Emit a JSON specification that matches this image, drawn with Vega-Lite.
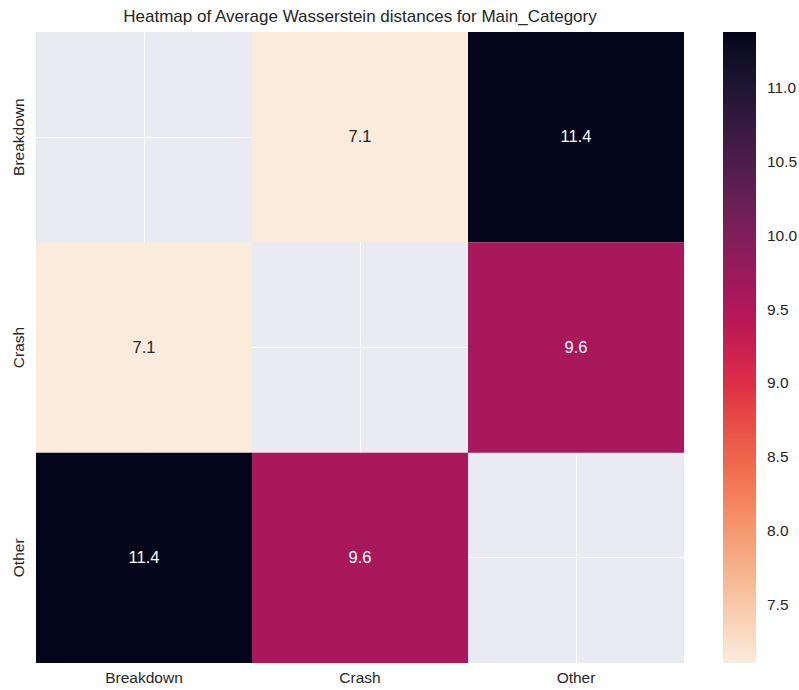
{
  "$schema": "https://vega.github.io/schema/vega-lite/v6.json",
  "width": 648,
  "height": 631,
  "autosize": {"type": "none"},
  "padding": {"left": 36, "top": 32, "right": 115, "bottom": 27},
  "background": "white",
  "config": {
    "font": "Liberation Sans",
    "view": {"fill": "#EAEAF2", "stroke": null}
  },
  "title": {
    "text": "Heatmap of Average Wasserstein distances for Main_Category",
    "fontSize": 17,
    "fontWeight": "normal",
    "color": "#262626",
    "anchor": "middle",
    "offset": 6
  },
  "data": {
    "values": [
      {"row": "Breakdown", "col": "Crash", "value": 7.107},
      {"row": "Breakdown", "col": "Other", "value": 11.379},
      {"row": "Crash", "col": "Breakdown", "value": 7.107},
      {"row": "Crash", "col": "Other", "value": 9.6},
      {"row": "Other", "col": "Breakdown", "value": 11.379},
      {"row": "Other", "col": "Crash", "value": 9.6}
    ]
  },
  "encoding": {
    "x": {
      "field": "col", "type": "nominal",
      "scale": {"domain": ["Breakdown", "Crash", "Other"], "paddingInner": 0, "paddingOuter": 0},
      "axis": {
        "title": null, "labelAngle": 0, "ticks": false, "domain": false,
        "labelFontSize": 15.5, "labelColor": "#262626", "labelPadding": 7,
        "grid": true, "gridColor": "white", "gridWidth": 1, "bandPosition": 0.5, "zindex": 0
      }
    },
    "y": {
      "field": "row", "type": "nominal",
      "scale": {"domain": ["Breakdown", "Crash", "Other"], "paddingInner": 0, "paddingOuter": 0},
      "axis": {
        "title": null, "labelAngle": -90, "labelAlign": "center", "labelBaseline": "bottom",
        "ticks": false, "domain": false,
        "labelFontSize": 15.5, "labelColor": "#262626", "labelPadding": 10,
        "grid": true, "gridColor": "white", "gridWidth": 1, "bandPosition": 0.5, "zindex": 0
      }
    }
  },
  "layer": [
    {
      "mark": {"type": "rect"},
      "encoding": {
        "color": {
          "field": "value", "type": "quantitative",
          "scale": {
            "type": "linear",
            "domain": [7.107, 7.717, 8.327, 8.937, 9.548, 10.158, 10.768, 11.379],
            "range": ["#faebdd", "#f6b48f", "#f37651", "#e13342", "#ad1759", "#701f57", "#35193e", "#03051a"]
          },
          "legend": {
            "title": null,
            "orient": "none",
            "legendX": 687,
            "legendY": 0,
            "direction": "vertical",
            "gradientLength": 631,
            "gradientThickness": 33,
            "gradientStrokeWidth": 0,
            "values": [7.5, 8.0, 8.5, 9.0, 9.5, 10.0, 10.5, 11.0],
            "format": ".1f",
            "labelFontSize": 15.5,
            "labelColor": "#262626",
            "labelOffset": 11,
            "labelOverlap": false
          }
        }
      }
    },
    {
      "mark": {"type": "text", "fontSize": 16.5, "baseline": "middle"},
      "encoding": {
        "text": {"field": "value", "type": "quantitative", "format": ".1f"},
        "color": {
          "condition": {"test": "datum.value < 8.5", "value": "#262626"},
          "value": "white"
        }
      }
    }
  ]
}
